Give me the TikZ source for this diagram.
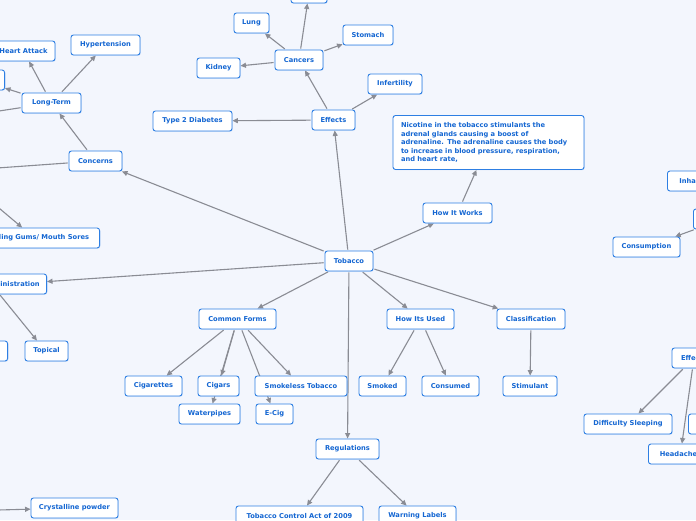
\documentclass[tikz,border=0pt]{standalone}
\usepackage{fontspec}
\setmainfont{DejaVu Sans}
\usetikzlibrary{arrows.meta,shadows}
\definecolor{bgc}{HTML}{F3F6FD}
\definecolor{txt}{HTML}{1466D2}
\definecolor{brd}{HTML}{2E7FE3}
\definecolor{lnc}{HTML}{8A8C94}
\pgfdeclarelayer{bg}
\pgfdeclarelayer{edges}
\pgfsetlayers{bg,edges,main}
\tikzset{
  box/.style={draw=brd, fill=white, line width=0.9pt, rounded corners=2.5pt,
    minimum height=20pt, inner xsep=2pt, inner ysep=0pt, text=txt,
    font=\fontsize{6.7}{8.5}\selectfont\bfseries,
    drop shadow={shadow xshift=0.7pt, shadow yshift=-0.7pt, fill=brd!45, opacity=0.55}},
  conn/.style={draw=lnc, line width=1.1pt, -{Triangle[length=5.5pt,width=5pt]}, shorten <=1pt},
}
\begin{document}
\begin{tikzpicture}[x=1pt,y=-1pt]
\useasboundingbox (0,0) rectangle (696,520);
\begin{pgfonlayer}{bg}
  \fill[bgc] (0,0) rectangle (696,520);
\end{pgfonlayer}

% centre
\node[box, minimum width=48pt] (tob) at (349,261) {Tobacco};
% effects branch
\node[box, minimum width=43pt] (eff) at (333.5,120) {Effects};
\node[box, minimum width=48pt] (can) at (299,60) {Cancers};
\node[box, minimum width=36pt] (topc) at (309,-7) {};
\node[box, minimum width=35pt] (lung) at (251.5,23) {Lung};
\node[box, minimum width=50pt] (stom) at (368,35) {Stomach};
\node[box, minimum width=43pt] (kid) at (218.5,68) {Kidney};
\node[box, minimum width=54pt] (inf) at (395,84) {Infertility};
\node[box, minimum width=79pt] (t2d) at (192.5,121) {Type 2 Diabetes};
% how it works
\node[box, minimum width=69pt] (hiw) at (457.5,213) {How It Works};
\node[box, minimum width=191pt, minimum height=54pt, inner xsep=8pt,
      text width=175pt, align=left] (nic) at (488.5,142.5)
  {Nicotine in the tobacco stimulants the\\adrenal glands causing a boost of\\adrenaline. The adrenaline causes the body\\to increase in blood pressure, respiration,\\and heart rate,};
% concerns
\node[box, minimum width=53pt] (conc) at (95.5,161) {Concerns};
\node[box, minimum width=59pt] (lt) at (51.5,103) {Long-Term};
\node[box, minimum width=63pt] (ha) at (23.5,51) {Heart Attack};
\node[box, minimum width=69pt] (hyp) at (105.5,45) {Hypertension};
\node[box, minimum width=50pt, anchor=east] (ltl) at (5,80) {};
\coordinate (ltoff) at (-60,120);
\coordinate (st) at (-45,171);
\node[box, minimum width=130pt, anchor=east] (gums) at (100,238) {Bleeding Gums/ Mouth Sores};
% administration
\node[box, minimum width=70pt, anchor=east] (adm) at (47,284) {Administration};
\node[box, minimum width=43pt] (topical) at (46.5,351) {Topical};
\node[box, minimum width=40pt, anchor=east] (admleft) at (8,351) {};
% common forms
\node[box, minimum width=77pt] (cf) at (237.5,319) {Common Forms};
\node[box, minimum width=57pt] (cig) at (153.5,386) {Cigarettes};
\node[box, minimum width=41pt] (cigar) at (218.5,386) {Cigars};
\node[box, minimum width=92pt] (sml) at (301,386) {Smokeless Tobacco};
\node[box, minimum width=61pt] (wp) at (209.5,414) {Waterpipes};
\node[box, minimum width=37pt] (ecig) at (274.5,414) {E-Cig};
% how its used
\node[box, minimum width=67pt] (hiu) at (420.5,319) {How Its Used};
\node[box, minimum width=47pt] (smk) at (382.5,386) {Smoked};
\node[box, minimum width=57pt] (cons) at (450.5,386) {Consumed};
% classification
\node[box, minimum width=68pt] (cls) at (531,319) {Classification};
\node[box, minimum width=54pt] (stim) at (530,386) {Stimulant};
% regulations
\node[box, minimum width=63pt] (reg) at (347.5,449) {Regulations};
\node[box, minimum width=127pt] (tca) at (299.5,516) {Tobacco Control Act of 2009};
\node[box, minimum width=77pt] (wl) at (417.5,516) {Warning Labels};
% crystalline
\coordinate (cpp) at (-40,511);
\node[box, minimum width=87pt] (cp) at (74.5,508) {Crystalline powder};
% right side
\node[box, minimum width=62pt, anchor=west] (inh) at (667,181) {Inhalation};
\node[box, minimum width=60pt, anchor=west] (rpart) at (693,219) {};
\node[box, minimum width=67pt] (consu) at (646.5,247) {Consumption};
\node[box, minimum width=44pt] (reff) at (694,358) {Effects};
\node[box, minimum width=88pt] (ds) at (628,424) {Difficulty Sleeping};
\node[box, minimum width=50pt, anchor=west] (rpart2) at (688,424) {};
\node[box, minimum width=64pt, anchor=west] (head) at (648,454) {Headaches};

\begin{pgfonlayer}{edges}
  \draw[conn] (tob) -- (eff);
  \draw[conn] (eff) -- (can);
  \draw[conn] (can) -- (topc);
  \draw[conn] (can) -- (lung);
  \draw[conn] (can) -- (stom);
  \draw[conn] (can) -- (kid);
  \draw[conn] (eff) -- (inf);
  \draw[conn] (eff) -- (t2d);
  \draw[conn] (tob) -- (hiw);
  \draw[conn] (hiw) -- (nic);
  \draw[conn] (tob) -- (conc);
  \draw[conn] (conc) -- (lt);
  \draw[conn] (lt) -- (ha);
  \draw[conn] (lt) -- (hyp);
  \draw[conn] (lt) -- (ltl);
  \draw[conn] (lt) -- (ltoff);
  \draw[conn] (conc) -- (st);
  \draw[conn] (st) -- (gums);
  \draw[conn] (tob) -- (adm);
  \draw[conn] ([xshift=-12pt]adm.south) -- ([xshift=-9.5pt]topical.north);
  \draw[conn] (tob) -- (cf);
  \draw[conn] (cf) -- (cig);
  \draw[conn] (cf) -- (cigar);
  \draw[conn] (cf) -- (wp);
  \draw[conn] (cf) -- (sml);
  \draw[conn] (cf) -- (ecig);
  \draw[conn] (tob) -- (hiu);
  \draw[conn] (hiu) -- (smk);
  \draw[conn] (hiu) -- (cons);
  \draw[conn] (tob) -- (cls);
  \draw[conn] (cls) -- (stim);
  \draw[conn] (tob) -- (reg);
  \draw[conn] (reg) -- (tca);
  \draw[conn] (reg) -- (wl);
  \draw[conn] (cpp) -- (cp);
  \draw[conn] (rpart) -- (consu);
  \draw[conn] (reff) -- (ds);
  \draw[conn] (reff) -- (head);
\end{pgfonlayer}
\end{tikzpicture}
\end{document}
